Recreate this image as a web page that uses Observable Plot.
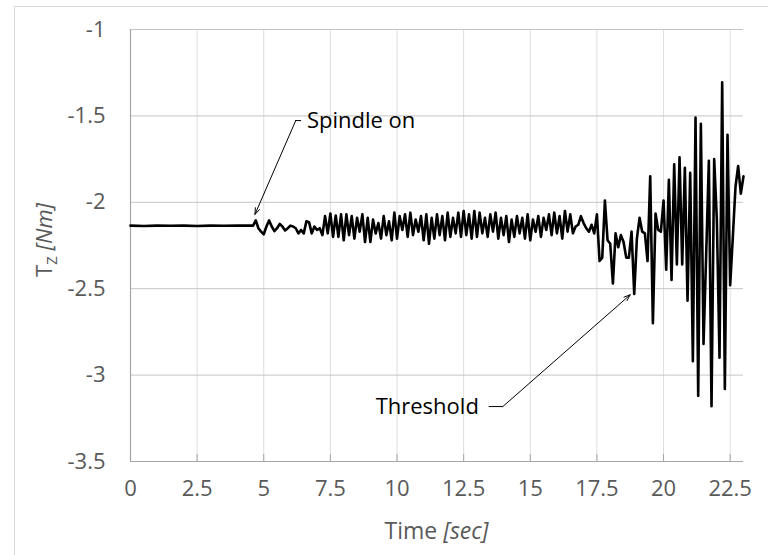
<!DOCTYPE html>
<html>
<head>
<meta charset="utf-8">
<script src="https://cdn.jsdelivr.net/npm/d3@7"></script>
<script src="https://cdn.jsdelivr.net/npm/@observablehq/plot@0.6"></script>
<style>
  html, body { margin: 0; padding: 0; background: #fff; }
  #wrap { position: relative; width: 768px; height: 555px; overflow: hidden; }
  #border { position: absolute; left: 14px; top: 6px; width: 800px; height: 600px;
            border: 1px solid #d9d9d9; pointer-events: none; }
  #chart { position: absolute; left: 0; top: 0; }
</style>
</head>
<body>
<div id="wrap"><div id="border"></div><div id="chart"></div></div>
<script>
// ---- data ----
const xTicks = [0, 2.5, 5, 7.5, 10, 12.5, 15, 17.5, 20, 22.5];
const yTicks = [-3.5, -3, -2.5, -2, -1.5, -1];

// idle part before the spindle starts
const flatTime   = [0, 0.5, 1, 1.5, 2, 2.5, 3, 3.5, 4, 4.5];
const flatTorque = [-2.135, -2.137, -2.135, -2.136, -2.135, -2.137, -2.135, -2.136, -2.135, -2.135];

// sampled part (every 0.1 s from 4.6 s)
const runStart = 4.6;
const runStep = 0.1;
const runTorque = [
  -2.135, -2.105, -2.15, -2.17, -2.185, -2.14, -2.105, -2.14, -2.167, -2.15,
  -2.125, -2.14, -2.163, -2.15, -2.135, -2.14, -2.15, -2.18, -2.16, -2.18,
  -2.11, -2.115, -2.18, -2.14, -2.16, -2.15, -2.19, -2.08, -2.18, -2.065,
  -2.20, -2.076, -2.20, -2.07,
  -2.22, -2.07, -2.19, -2.08, -2.21, -2.09, -2.17, -2.07, -2.23, -2.09,
  -2.23, -2.10, -2.18, -2.12, -2.21, -2.08, -2.19, -2.11, -2.22, -2.06,
  -2.21, -2.08, -2.16, -2.07, -2.20, -2.06, -2.19, -2.10, -2.17, -2.08,
  -2.22, -2.07, -2.24, -2.09, -2.21, -2.07, -2.19, -2.08, -2.22, -2.06,
  -2.20, -2.09, -2.18, -2.06, -2.20, -2.05, -2.19, -2.07, -2.21, -2.05,
  -2.20, -2.06, -2.18, -2.09, -2.20, -2.07, -2.17, -2.06, -2.21, -2.09,
  -2.19, -2.08, -2.23, -2.10, -2.20, -2.08, -2.18, -2.09, -2.21, -2.07,
  -2.22, -2.10, -2.17, -2.08, -2.20, -2.09, -2.16, -2.07, -2.19, -2.06,
  -2.18, -2.08, -2.21, -2.05, -2.17, -2.07, -2.18, -2.14, -2.13, -2.08,
  -2.12, -2.15, -2.17, -2.13, -2.18, -2.07,
  -2.34, -2.32, -1.99, -2.22, -2.24, -2.47, -2.18, -2.26, -2.19, -2.23,
  -2.32, -2.32, -2.17, -2.53, -2.21, -2.09, -2.17, -2.18, -2.34, -1.85,
  -2.70, -2.065, -2.16, -2.17, -1.99, -2.39, -1.87, -2.45, -1.78, -2.36,
  -1.74, -2.36, -1.80, -2.57, -1.83, -2.92, -1.51, -3.12, -1.545, -2.82,
  -2.30, -1.76, -3.18, -1.75, -2.10, -2.90, -1.305, -3.08, -1.61, -2.48,
  -2.20, -1.91, -1.79, -1.95, -1.85
];

// annotations (data coordinates)
const noteLabels = ["Spindle on", "Threshold"];
const noteTextX  = [6.62, 13.07];
const noteTextY  = [-1.527, -3.182];
const leaderX1 = [6.40, 13.44];
const leaderX2 = [6.18, 13.97];
const arrowFromX = [6.20, 13.97];
const arrowToX   = [4.67, 18.75];
const arrowToY   = [-2.07, -2.535];

// ---- build ----
const series = [
  ...flatTime.map((t, i) => ({t, v: flatTorque[i]})),
  ...runTorque.map((v, i) => ({t: +(runStart + i * runStep).toFixed(2), v}))
];
const notes = noteLabels.map((label, i) => ({
  label, tx: noteTextX[i], ty: noteTextY[i],
  lx1: leaderX1[i], lx2: leaderX2[i], ax1: arrowFromX[i], ax2: arrowToX[i], ay2: arrowToY[i]
}));

const fmt = d => String(d);
const font = "'Open Sans', 'Liberation Sans', sans-serif";

const svg = Plot.plot({
  width: 768,
  height: 555,
  marginLeft: 130,
  marginRight: 25,
  marginTop: 29,
  marginBottom: 94,
  style: {fontFamily: font, fontSize: "22px", color: "#595959", background: "transparent", overflow: "visible"},
  x: {domain: [0, 23]},
  y: {domain: [-3.5, -1]},
  marks: [
    Plot.gridX(xTicks.filter(d => d > 0), {stroke: "#dedede", strokeOpacity: 1}),
    Plot.gridY(yTicks.filter(d => d > -3.5), {stroke: "#c4c4c4", strokeOpacity: 1}),
    Plot.ruleX([0], {stroke: "#a6a6a6", strokeWidth: 1.2}),
    Plot.ruleY([-3.5], {stroke: "#a6a6a6", strokeWidth: 1.2}),
    Plot.ruleX(xTicks.filter(d => d > 0), {y1: -3.5, y2: -3.5, insetTop: -7, stroke: "#a6a6a6"}),
    Plot.axisX(xTicks, {tickSize: 0, tickPadding: 19, tickFormat: fmt, label: null, fontSize: 22}),
    Plot.axisY(yTicks, {tickSize: 0, tickPadding: 25, tickFormat: fmt, label: null, fontSize: 22}),
    Plot.line(series, {x: "t", y: "v", stroke: "#000", strokeWidth: 2.6, strokeLinejoin: "round"}),
    Plot.link(notes, {x1: "lx1", x2: "lx2", y1: "ty", y2: "ty", stroke: "#000", strokeWidth: 1}),
    Plot.arrow(notes, {x1: "ax1", y1: "ty", x2: "ax2", y2: "ay2", stroke: "#000", strokeWidth: 1,
                       headLength: 10, headAngle: 40}),
    Plot.text(notes.slice(0, 1), {x: "tx", y: "ty", text: "label", textAnchor: "start", fill: "#000",
                      fontSize: 22, fontFamily: font}),
    Plot.text(notes.slice(1), {x: "tx", y: "ty", text: "label", textAnchor: "end", fill: "#000",
                      fontSize: 22, fontFamily: font})
  ]
});

// axis titles with mixed styles
const s = d3.select(svg);
const xl = s.append("text")
  .attr("x", 436.5).attr("y", 539)
  .attr("text-anchor", "middle")
  .attr("fill", "#595959")
  .style("font-family", font).style("font-size", "23px");
xl.append("tspan").text("Time ");
xl.append("tspan").attr("font-style", "italic").text("[sec]");

const yl = s.append("text")
  .attr("transform", "translate(52,240) rotate(-90)")
  .attr("text-anchor", "middle")
  .attr("fill", "#595959")
  .style("font-family", font).style("font-size", "22px");
yl.append("tspan").text("T");
yl.append("tspan").attr("font-size", "15px").attr("dy", 5).text("Z");
yl.append("tspan").attr("dy", -5).text(" ");
yl.append("tspan").attr("font-style", "italic").text("[Nm]");

document.getElementById("chart").appendChild(svg);
</script>
</body>
</html>
